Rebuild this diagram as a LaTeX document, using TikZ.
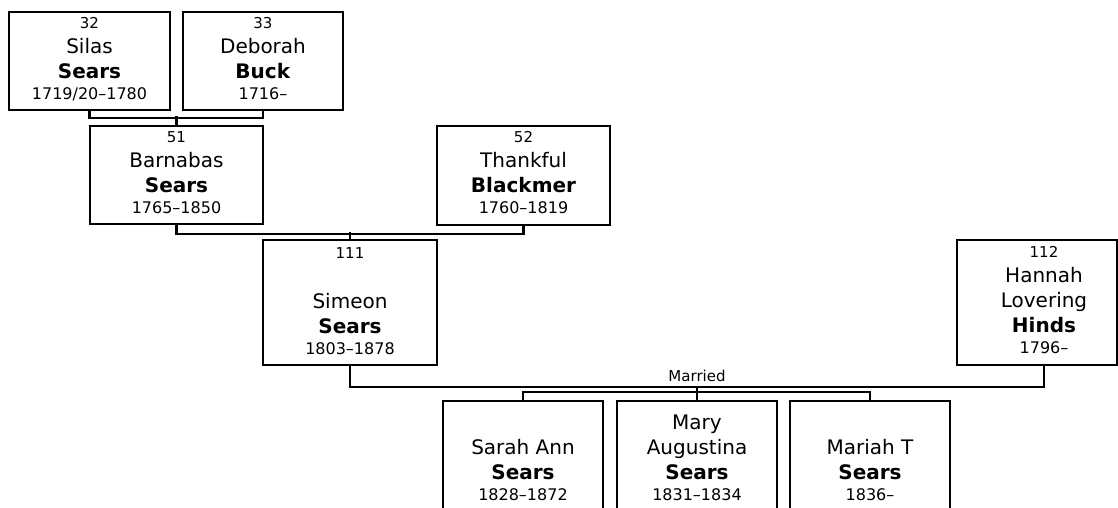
\documentclass[tikz,border=0pt]{standalone}
\usepackage{fontspec}
\setmainfont{DejaVu Sans}
\newcommand\pnum[1]{{\fontsize{15}{25}\selectfont #1}}
\newcommand\pyr[1]{{\fontsize{16}{25}\selectfont #1}}
\begin{document}
\begin{tikzpicture}[x=1pt,y=-1pt,
  pbox/.style={draw, line width=2.1pt, inner sep=0pt, minimum width=#1},
  ptext/.style={anchor=base, inner sep=0pt, align=center, font=\fontsize{20}{25}\selectfont},
  link/.style={line width=2.1pt},
  mlab/.style={anchor=base, inner sep=0pt, font=\fontsize{15}{18}\selectfont}]
\useasboundingbox (0,0) rectangle (1118,508);
\clip (0,0) rectangle (1118,508);
\fill[white] (0,0) rectangle (1118,508);
% boxes
\node[pbox=161, minimum height=98] (p32) at (89.5,61) {};
\node[pbox=160, minimum height=98] (p33) at (263,61) {};
\node[pbox=173, minimum height=98] (p51) at (176.5,175) {};
\node[pbox=173, minimum height=99] (p52) at (523.5,175.5) {};
\node[pbox=174, minimum height=125] (p111) at (350,302.5) {};
\node[inner sep=0pt, minimum width=174, minimum height=125] (p112) at (1044,302.5) {};
\draw[link] (957,240) rectangle (1117,365);
\node[pbox=160, minimum height=125] (c1) at (523,463.5) {};
\node[pbox=160, minimum height=125] (c2) at (697,463.5) {};
\node[pbox=160, minimum height=125] (c3) at (870,463.5) {};
% texts
\node[ptext] (t32) at (89.5,100) {\pnum{32}\\ Silas\\ \textbf{Sears}\\[-4pt] \pyr{1719/20\textendash1780}};
\node[ptext] (t33) at (263,100) {\pnum{33}\\ Deborah\\ \textbf{Buck}\\[-4pt] \pyr{1716\textendash}};
\node[ptext] (t51) at (176.5,213.3) {\pnum{51}\\ Barnabas\\ \textbf{Sears}\\[-4pt] \pyr{1765\textendash1850}};
\node[ptext] (t52) at (523.5,213.3) {\pnum{52}\\ Thankful\\ \textbf{Blackmer}\\[-4pt] \pyr{1760\textendash1819}};
\node[ptext] (t111) at (350,354) {\pnum{111}\\ \\ Simeon\\ \textbf{Sears}\\[-4pt] \pyr{1803\textendash1878}};
\node[ptext] (t112) at (1044,353.5) {\pnum{112}\\ Hannah\\ Lovering\\ \textbf{Hinds}\\[-4pt] \pyr{1796\textendash}};
\node[ptext] (tc1) at (523,500.5) {Sarah Ann\\ \textbf{Sears}\\[-4pt] \pyr{1828\textendash1872}};
\node[ptext] (tc2) at (697,500.5) {Mary\\ Augustina\\ \textbf{Sears}\\[-4pt] \pyr{1831\textendash1834}};
\node[ptext] (tc3) at (870,500.5) {Mariah T\\ \textbf{Sears}\\[-4pt] \pyr{1836\textendash}};
% connectors
\draw[link] (p32.south) -- ++(0,7) -| (p33.south);
\draw[link] (p51.north) -- ++(0,-9);
\draw[link] (p51.south) -- ++(0,9) -| (p52.south);
\draw[link] (p111.north) -- ++(0,-7);
\draw[link] (p111.south) -- ++(0,21) -| (p112.south);
\coordinate (mar) at (697,386);
\node[mlab] (mlabel) at (697,381.5) {Married};
\draw[link] (c2.north) -- (mar);
\draw[link] (c1.north) -- ++(0,-8) -| (c3.north);
\end{tikzpicture}
\end{document}
